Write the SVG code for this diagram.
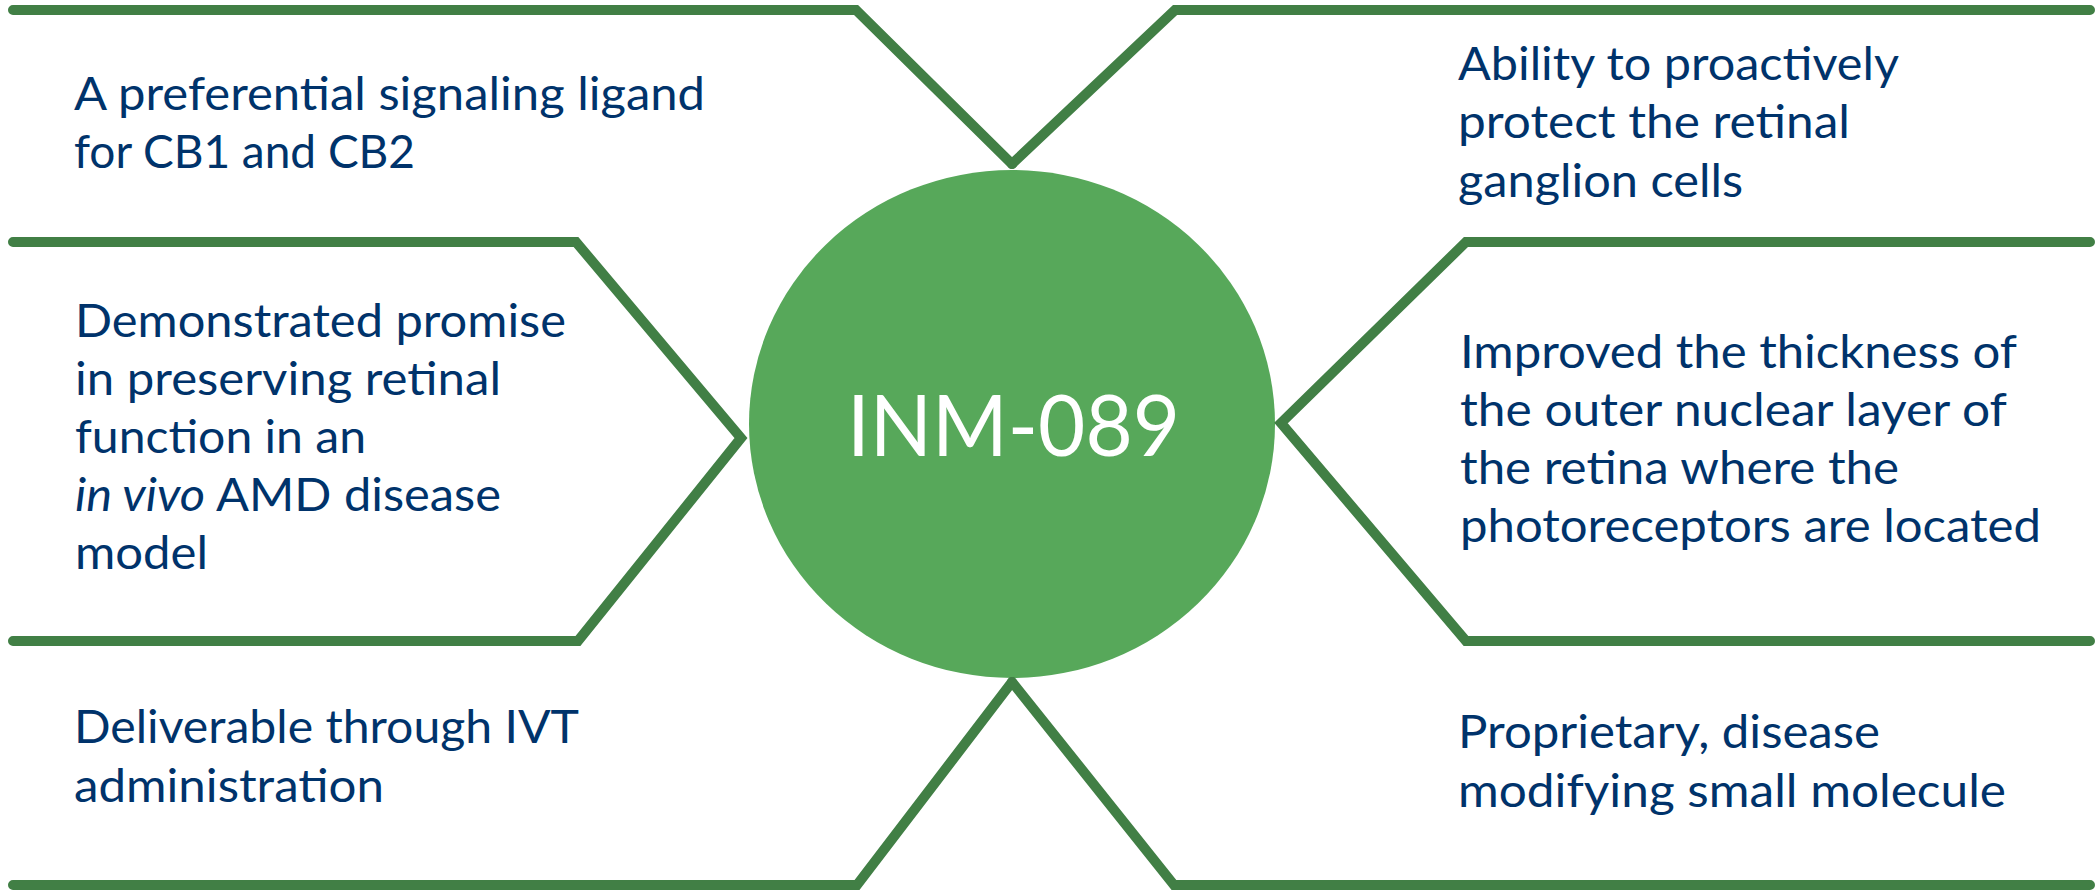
<svg xmlns="http://www.w3.org/2000/svg" width="2097" height="891" viewBox="0 0 2097 891">
<style>
.outline{fill:none;stroke:#417f45;stroke-width:10;stroke-linecap:round;stroke-linejoin:miter}
.lbl{font-family:Lato,"Open Sans","Liberation Sans",sans-serif;font-size:46px;fill:#00336b}
.it{font-style:italic}
.hub{font-family:Lato,"Open Sans","Liberation Sans",sans-serif;font-size:86px;fill:#ffffff}
</style>
<rect width="2097" height="891" fill="#ffffff"/>
<g id="hub">
<ellipse cx="1012" cy="424" rx="263" ry="254" fill="#57a85a"/>
<text class="hub" x="847" y="456" textLength="333" lengthAdjust="spacingAndGlyphs">INM-089</text>
</g>
<g id="node-top-left">
<path class="outline" d="M13,10 L856,10 L1012,164"/>
<text class="lbl" x="74" y="110" textLength="631" lengthAdjust="spacingAndGlyphs">A preferential signaling ligand</text>
<text class="lbl" x="74" y="168" textLength="341" lengthAdjust="spacingAndGlyphs">for CB1 and CB2</text>
</g>
<g id="node-top-right">
<path class="outline" d="M1012,164 L1175,10 L2090,10"/>
<text class="lbl" x="1458" y="80" textLength="441" lengthAdjust="spacingAndGlyphs">Ability to proactively</text>
<text class="lbl" x="1458" y="138" textLength="392" lengthAdjust="spacingAndGlyphs">protect the retinal</text>
<text class="lbl" x="1458" y="197" textLength="285" lengthAdjust="spacingAndGlyphs">ganglion cells</text>
</g>
<g id="node-mid-left">
<path class="outline" d="M13,242 L576,242 L741,438 L578,641 L13,641"/>
<text class="lbl" x="75" y="337" textLength="491" lengthAdjust="spacingAndGlyphs">Demonstrated promise</text>
<text class="lbl" x="75" y="395" textLength="426" lengthAdjust="spacingAndGlyphs">in preserving retinal</text>
<text class="lbl" x="75" y="453" textLength="291" lengthAdjust="spacingAndGlyphs">function in an</text>
<text class="lbl" x="75" y="511" textLength="426" lengthAdjust="spacingAndGlyphs"><tspan class="it">in vivo</tspan> AMD disease</text>
<text class="lbl" x="75" y="569" textLength="133" lengthAdjust="spacingAndGlyphs">model</text>
</g>
<g id="node-mid-right">
<path class="outline" d="M2090,242 L1466,242 L1281,423 L1466,641 L2090,641"/>
<text class="lbl" x="1460" y="368" textLength="557" lengthAdjust="spacingAndGlyphs">Improved the thickness of</text>
<text class="lbl" x="1460" y="426" textLength="547" lengthAdjust="spacingAndGlyphs">the outer nuclear layer of</text>
<text class="lbl" x="1460" y="484" textLength="439" lengthAdjust="spacingAndGlyphs">the retina where the</text>
<text class="lbl" x="1460" y="542" textLength="581" lengthAdjust="spacingAndGlyphs">photoreceptors are located</text>
</g>
<g id="node-bottom-left">
<path class="outline" d="M13,885 L857,885 L1012,682"/>
<text class="lbl" x="74" y="743" textLength="505" lengthAdjust="spacingAndGlyphs">Deliverable through IVT</text>
<text class="lbl" x="74" y="802" textLength="310" lengthAdjust="spacingAndGlyphs">administration</text>
</g>
<g id="node-bottom-right">
<path class="outline" d="M1012,682 L1174,885 L2090,885"/>
<text class="lbl" x="1458" y="748" textLength="422" lengthAdjust="spacingAndGlyphs">Proprietary, disease</text>
<text class="lbl" x="1458" y="807" textLength="548" lengthAdjust="spacingAndGlyphs">modifying small molecule</text>
</g>
</svg>
